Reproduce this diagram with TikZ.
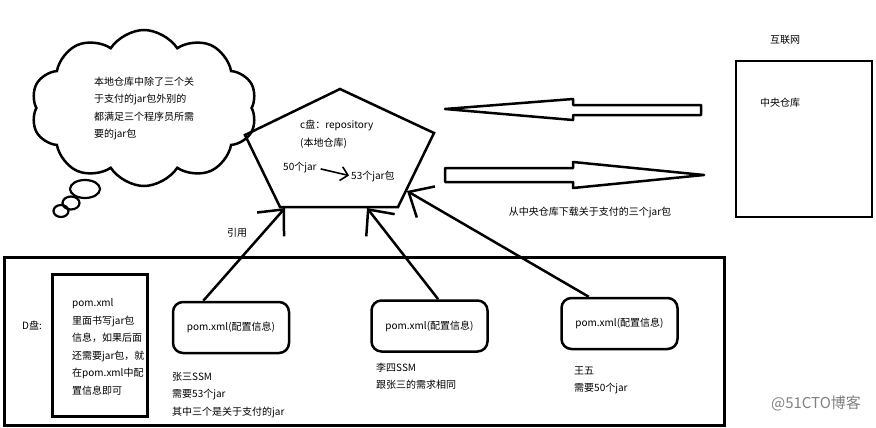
\documentclass[tikz,border=0pt]{standalone}
\usepackage{fontspec}
\setmainfont{Noto Sans CJK SC}
\usetikzlibrary{shapes.symbols,shapes.geometric,arrows.meta}

\tikzset{
	thick line/.style={line width=2.5pt},
	pom box/.style={draw,line width=2.5pt,rounded corners=10pt,minimum width=116pt,minimum height=51pt},
	ref arrow/.style={line width=2.5pt,-{Straight Barb[length=20pt,width=36pt]}},
	bubble/.style={draw,ellipse,line width=2.2pt,inner sep=0pt},
	note/.style={anchor=base west,inner sep=0pt},
}

\begin{document}
\begin{tikzpicture}[x=1pt,y=-1pt,every node/.style={font=\fontsize{10}{17.5}\selectfont}]
	\useasboundingbox (0,0) rectangle (876,428);
	
	\node[cloud,draw,thick line,cloud puffs=10,cloud puff arc=115,aspect=1.4,minimum width=226pt,minimum height=156pt] (thought) at (144,108) {\begin{tabular}{@{}l@{}}本地仓库中除了三个关\\于支付的jar包外别的\\都满足三个程序员所需\\要的jar包\end{tabular}};
	\node[bubble,minimum width=30pt,minimum height=18pt] (bubbleA) at (85,189) {};
	\node[bubble,minimum width=17pt,minimum height=13pt] (bubbleB) at (71,203) {};
	\node[bubble,minimum width=15pt,minimum height=12pt] (bubbleC) at (61,211) {};
	
	\coordinate (pTop) at (340,89);
	\coordinate (pRight) at (434,133);
	\coordinate (pBotR) at (398,207);
	\coordinate (pBotL) at (280,207);
	\coordinate (pLeft) at (245,135);
	\draw[thick line] (pTop) -- (pRight) -- (pBotR) -- (pBotL) -- (pLeft) -- cycle;
	\coordinate (refA) at (285,208);
	\coordinate (refB) at (367,208);
	\coordinate (refC) at (407,191);
	
	\node[anchor=west,inner sep=0pt] (repo) at (300,125) {c盘：repository};
	\node[anchor=west,inner sep=0pt] (local) at (300,143) {(本地仓库)};
	\node[anchor=west,inner sep=0pt] (fifty) at (283,168) {50个jar};
	\node[anchor=west,inner sep=0pt] (fiftythree) at (351,176) {53个jar包};
	\draw[line width=1.6pt,shorten <=4pt,shorten >=2pt,-{Straight Barb[length=7pt,width=14pt]}] (fifty.east) -- (fiftythree.west);
	
	% outlined arrows to and from the central repository
	\draw[thick line,line join=round] (445,109) -- (573,99) -- (573,105) -- (701,105) -- (701,115) -- (573,115) -- (573,120) -- cycle;
	\draw[thick line,line join=round] (445,168) -- (573,168) -- (573,162) -- (704,175) -- (573,188) -- (573,182) -- (445,182) -- cycle;
	\node (download) at (590,212) {从中央仓库下载关于支付的三个jar包};
	
	\node (internet) at (785,40) {互联网};
	\node[draw,thick line,minimum width=136pt,minimum height=156pt] (central) at (804,139) {};
	\node (centrallabel) at (780,103) {中央仓库};
	
	\node[draw,line width=3pt,minimum width=720pt,minimum height=168pt] (ddrive) at (364,341) {};
	\node (dlabel) at (32,326) {D盘:};
	\node[draw,line width=3pt,minimum width=95pt,minimum height=142pt] (pomnote) at (99.5,345) {};
	\node[note] (pomnotetext) at (72,306.5) {\begin{tabular}[t]{@{}l@{}}pom.xml\\里面书写jar包\\信息，如果后面\\还需要jar包，就\\在pom.xml中配\\置信息即可\end{tabular}};
	
	\node[pom box] (pomA) at (231,327.5) {pom.xml(配置信息)};
	\node[pom box] (pomB) at (429.5,326) {pom.xml(配置信息)};
	\node[pom box] (pomC) at (619.5,323.5) {pom.xml(配置信息)};
	
	\node[note] (zhangsan) at (172,380) {\begin{tabular}[t]{@{}l@{}}张三SSM\\需要53个jar\\其中三个是关于支付的jar\end{tabular}};
	\node[note] (lisi) at (376,371) {\begin{tabular}[t]{@{}l@{}}李四SSM\\跟张三的需求相同\end{tabular}};
	\node[note] (wangwu) at (574,374) {\begin{tabular}[t]{@{}l@{}}王五\\需要50个jar\end{tabular}};
	
	\draw[ref arrow] (pomA.136) -- (refA);
	\draw[ref arrow] (pomB.72) -- (refB);
	\draw[ref arrow] (pomC.139) -- (refC);
	\node (quote) at (237,233) {引用};
	
	\node[text=gray,font=\fontsize{15}{18}\selectfont] (watermark) at (816,403) {@51CTO博客};
\end{tikzpicture}
\end{document}
